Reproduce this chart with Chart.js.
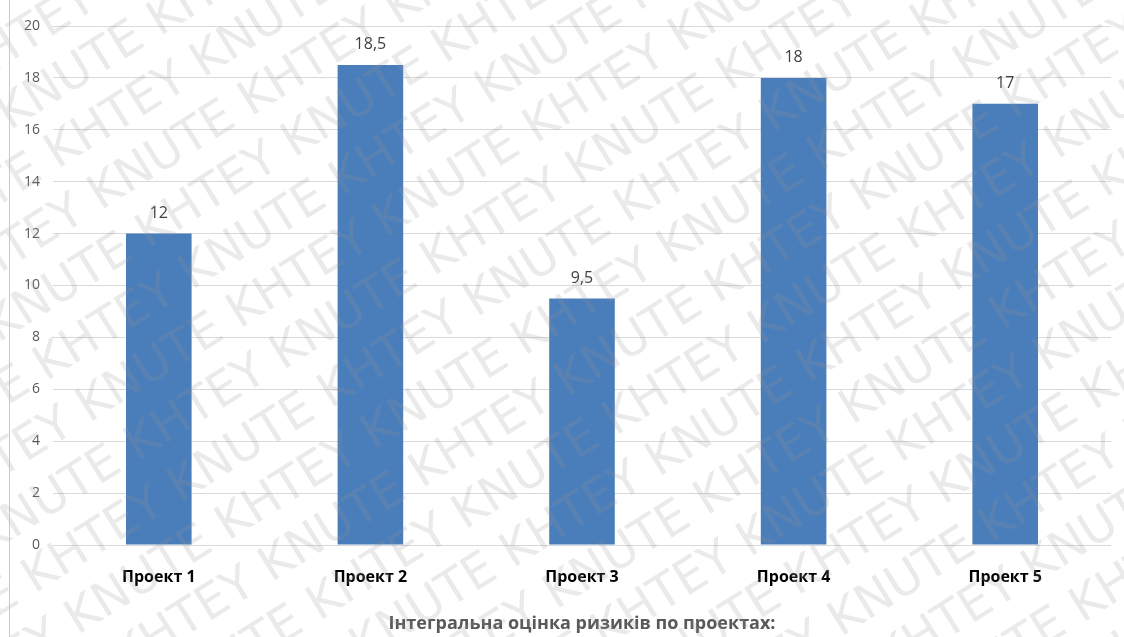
<!DOCTYPE html>
<html>
<head>
<meta charset="utf-8">
<script src="https://cdn.jsdelivr.net/npm/chart.js@4.4.1/dist/chart.umd.min.js"></script>
<style>
html,body{margin:0;padding:0;background:#fff;}
#wrap{position:relative;width:1124px;height:637px;}
</style>
</head>
<body>
<div id="wrap"><canvas id="c" width="1124" height="637"></canvas></div>
<script>
const categories = ["Проект 1", "Проект 2", "Проект 3", "Проект 4", "Проект 5"];
const values = [12, 18.5, 9.5, 18, 17];
const yTicks = [0, 2, 4, 6, 8, 10, 12, 14, 16, 18, 20];
const axisTitle = "Інтегральна оцінка ризиків по проектах:";
const watermarkText = "KHTEY KNUTE ";

const fmt = v => String(v).replace('.', ',');

const watermark = {
  id: 'watermark',
  afterDraw(chart) {
    const ctx = chart.ctx;
    ctx.save();
    ctx.fillStyle = 'rgba(150,150,150,0.2)';
    ctx.font = '48px "DejaVu Sans"';
    ctx.textBaseline = 'middle';
    ctx.translate(562, 318);
    ctx.rotate(-32 * Math.PI / 180);
    const line = watermarkText.repeat(8);
    const w = ctx.measureText(watermarkText).width;
    for (let i = -13; i <= 13; i++) {
      const off = ((i * 0.45 * w) % w + w) % w;
      ctx.fillText(line, -1100 - off, i * 58);
    }
    ctx.restore();
    ctx.save();
    ctx.strokeStyle = '#c8c8c8';
    ctx.lineWidth = 1;
    ctx.beginPath();
    ctx.moveTo(9.5, 0);
    ctx.lineTo(9.5, 637);
    ctx.stroke();
    ctx.restore();
  }
};

const dataLabels = {
  id: 'dataLabels',
  afterDatasetsDraw(chart) {
    const ctx = chart.ctx;
    const meta = chart.getDatasetMeta(0);
    ctx.save();
    ctx.fillStyle = '#404040';
    ctx.font = '16px "Open Sans"';
    ctx.textAlign = 'center';
    ctx.textBaseline = 'middle';
    meta.data.forEach((bar, i) => {
      ctx.fillText(fmt(values[i]), bar.x, bar.y - 20);
    });
    ctx.restore();
  }
};

new Chart(document.getElementById('c'), {
  type: 'bar',
  data: {
    labels: categories,
    datasets: [{
      data: values,
      backgroundColor: '#4a7ebb',
      borderColor: '#4a7ebb',
      borderWidth: 0,
      categoryPercentage: 1,
      barPercentage: 0.31
    }]
  },
  options: {
    responsive: false,
    animation: false,
    layout: { padding: { left: 0, right: 13, top: 26, bottom: 0 } },
    plugins: { legend: { display: false }, tooltip: { enabled: false } },
    scales: {
      x: {
        grid: { display: false },
        border: { display: false },
        ticks: { color: '#000', font: { family: 'Open Sans', size: 16, weight: 'bold' }, padding: 15 },
        title: {
          display: true,
          text: axisTitle,
          color: '#595959',
          font: { family: 'Open Sans', size: 18, weight: 'bold' },
          padding: { top: 0, bottom: 2 }
        },
        afterFit(s) { s.height = 92; }
      },
      y: {
        min: 0, max: 20,
        afterBuildTicks(s) { s.ticks = yTicks.map(v => ({ value: v })); },
        grid: { color: '#d9d9d9', lineWidth: 1, drawTicks: false },
        border: { display: false },
        ticks: { color: '#595959', font: { family: 'Open Sans', size: 14 }, padding: 13 },
        afterFit(s) { s.width = 53; }
      }
    }
  },
  plugins: [watermark, dataLabels]
});
</script>
</body>
</html>
